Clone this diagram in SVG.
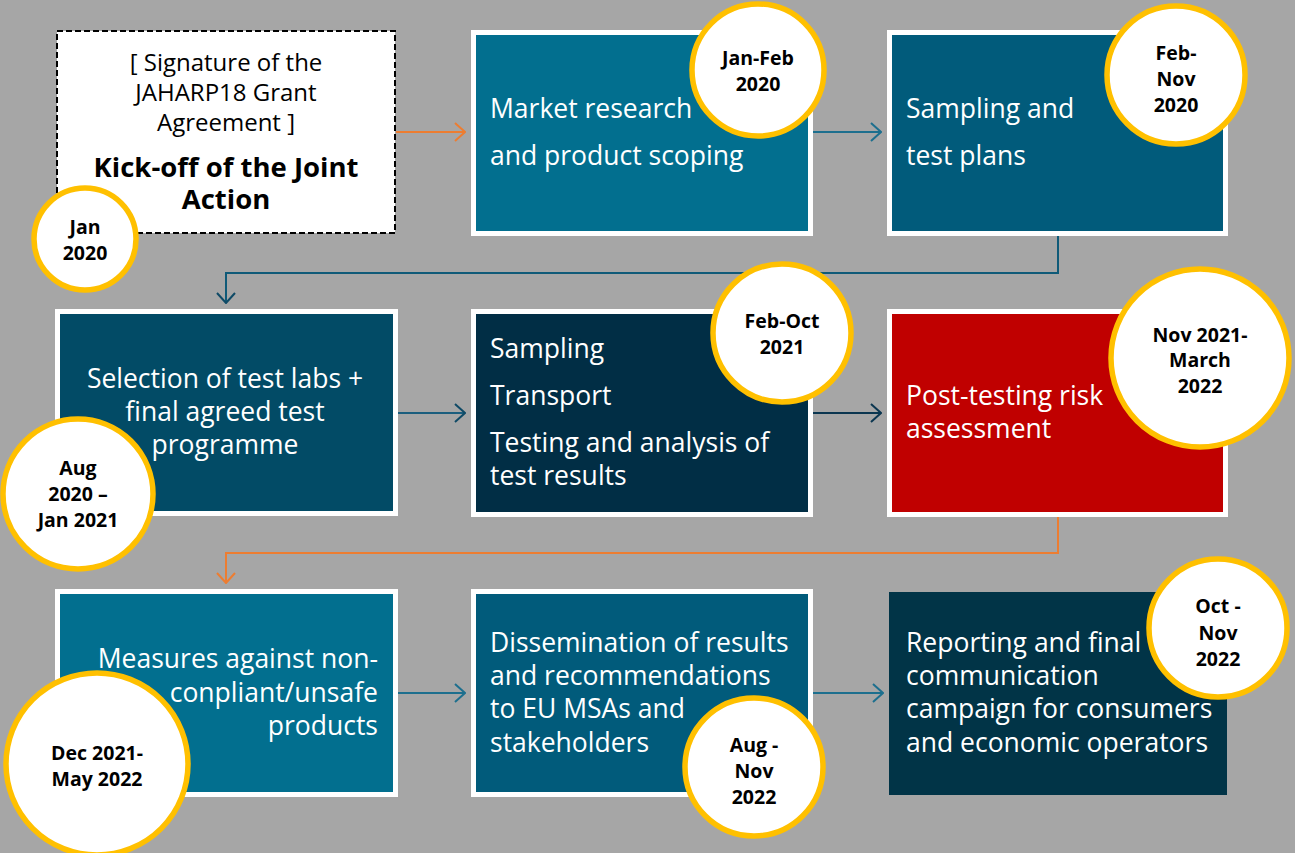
<svg xmlns="http://www.w3.org/2000/svg" width="1295" height="853" viewBox="0 0 1295 853">
  <defs>
    <marker id="chev-orange" viewBox="0 0 12 20" refX="11" refY="10" markerWidth="12" markerHeight="20" markerUnits="userSpaceOnUse" orient="auto">
      <path d="M1,1 L11,10 L1,19" fill="none" stroke="#ED7D31" stroke-width="2"/>
    </marker>
    <marker id="chev-teal" viewBox="0 0 12 20" refX="11" refY="10" markerWidth="12" markerHeight="20" markerUnits="userSpaceOnUse" orient="auto">
      <path d="M1,1 L11,10 L1,19" fill="none" stroke="#1D6F8E" stroke-width="2"/>
    </marker>
    <marker id="chev-navy" viewBox="0 0 12 20" refX="11" refY="10" markerWidth="12" markerHeight="20" markerUnits="userSpaceOnUse" orient="auto">
      <path d="M1,1 L11,10 L1,19" fill="none" stroke="#0F4A66" stroke-width="2"/>
    </marker>
    <marker id="chev-dark" viewBox="0 0 12 20" refX="11" refY="10" markerWidth="12" markerHeight="20" markerUnits="userSpaceOnUse" orient="auto">
      <path d="M1,1 L11,10 L1,19" fill="none" stroke="#0B3650" stroke-width="2"/>
    </marker>
  </defs>
  <style>
    .card { stroke: #ffffff; stroke-width: 5; }
    .c-teal { fill: #026F8F; }
    .c-blue { fill: #015B7B; }
    .c-navy { fill: #024B66; }
    .c-dark { fill: #012E45; }
    .c-deep { fill: #013447; }
    .c-red { fill: #C00000; }
    .body { font-family: "Open Sans", "Noto Sans", sans-serif; font-size: 26.5px; fill: #ffffff; }
    .intro { font-family: "Open Sans", "Noto Sans", sans-serif; font-size: 24px; fill: #000000; text-anchor: middle; }
    .intro-b { font-family: "Open Sans", "Noto Sans", sans-serif; font-size: 27.5px; font-weight: bold; fill: #000000; text-anchor: middle; }
    .badge { fill: #ffffff; stroke: #FFC000; stroke-width: 5.5; }
    .date { font-family: "Open Sans", "Noto Sans", sans-serif; font-size: 19.5px; font-weight: bold; fill: #000000; text-anchor: middle; }
    .link { fill: none; stroke-width: 2; }
  </style>

  <rect x="0" y="0" width="1295" height="853" fill="#A6A6A6"/>

  <g id="connectors">
    <line class="link" x1="396" y1="132" x2="465" y2="132" stroke="#ED7D31" marker-end="url(#chev-orange)"/>
    <line class="link" x1="813" y1="132" x2="881" y2="132" stroke="#1D6F8E" marker-end="url(#chev-teal)"/>
    <polyline class="link" points="1058,236 1058,273 226,273 226,303" stroke="#0F5A78" marker-end="url(#chev-navy)"/>
    <line class="link" x1="398" y1="413" x2="465" y2="413" stroke="#1B5E7E" marker-end="url(#chev-navy)"/>
    <line class="link" x1="813" y1="413" x2="881" y2="413" stroke="#0B3650" marker-end="url(#chev-dark)"/>
    <polyline class="link" points="1058,517 1058,553 226,553 226,583" stroke="#ED7D31" marker-end="url(#chev-orange)"/>
    <line class="link" x1="398" y1="693" x2="465" y2="693" stroke="#1D6F8E" marker-end="url(#chev-teal)"/>
    <line class="link" x1="813" y1="693" x2="883" y2="693" stroke="#1D6F8E" marker-end="url(#chev-teal)"/>
  </g>

  <g id="kickoff">
    <rect x="57" y="31" width="338" height="202" fill="#ffffff" stroke="#000000" stroke-width="2" stroke-dasharray="6 3"/>
    <text class="intro" x="226" y="71">[ Signature of the</text>
    <text class="intro" x="226" y="101">JAHARP18 Grant</text>
    <text class="intro" x="226" y="131">Agreement ]</text>
    <text class="intro-b" x="226" y="177">Kick-off of the Joint</text>
    <text class="intro-b" x="226" y="209">Action</text>
    <circle class="badge" cx="85" cy="239" r="51"/>
    <text class="date" x="85" y="234">Jan</text>
    <text class="date" x="85" y="260">2020</text>
  </g>

  <g id="market-research">
    <rect class="card c-teal" x="473.5" y="32.5" width="337" height="201"/>
    <text class="body" x="490" y="118">Market research</text>
    <text class="body" x="490" y="165">and product scoping</text>
    <circle class="badge" cx="758" cy="70" r="66"/>
    <text class="date" x="758" y="65">Jan-Feb</text>
    <text class="date" x="758" y="91">2020</text>
  </g>

  <g id="sampling-plans">
    <rect class="card c-blue" x="889.5" y="32.5" width="336" height="201"/>
    <text class="body" x="906" y="118">Sampling and</text>
    <text class="body" x="906" y="165">test plans</text>
    <circle class="badge" cx="1176" cy="75" r="69"/>
    <text class="date" x="1176" y="60">Feb-</text>
    <text class="date" x="1176" y="86">Nov</text>
    <text class="date" x="1176" y="112">2020</text>
  </g>

  <g id="lab-selection">
    <rect class="card c-navy" x="57.5" y="311.5" width="338" height="202"/>
    <text class="body" x="225" y="388" text-anchor="middle">Selection of test labs +</text>
    <text class="body" x="225" y="421" text-anchor="middle">final agreed test</text>
    <text class="body" x="225" y="454" text-anchor="middle">programme</text>
    <circle class="badge" cx="78" cy="494" r="75"/>
    <text class="date" x="78" y="475">Aug</text>
    <text class="date" x="78" y="501">2020 –</text>
    <text class="date" x="78" y="527">Jan 2021</text>
  </g>

  <g id="sampling-testing">
    <rect class="card c-dark" x="473.5" y="311.5" width="337" height="203"/>
    <text class="body" x="490" y="358">Sampling</text>
    <text class="body" x="490" y="405">Transport</text>
    <text class="body" x="490" y="452">Testing and analysis of</text>
    <text class="body" x="490" y="485">test results</text>
    <circle class="badge" cx="782" cy="333" r="69"/>
    <text class="date" x="782" y="328">Feb-Oct</text>
    <text class="date" x="782" y="354">2021</text>
  </g>

  <g id="risk-assessment">
    <rect class="card c-red" x="889.5" y="311.5" width="336" height="203"/>
    <text class="body" x="906" y="405">Post-testing risk</text>
    <text class="body" x="906" y="438">assessment</text>
    <circle class="badge" cx="1200" cy="358" r="89"/>
    <text class="date" x="1200" y="342">Nov 2021-</text>
    <text class="date" x="1200" y="367">March</text>
    <text class="date" x="1200" y="393">2022</text>
  </g>

  <g id="measures">
    <rect class="card c-teal" x="57.5" y="591.5" width="338" height="203"/>
    <text class="body" x="378" y="668" text-anchor="end">Measures against non-</text>
    <text class="body" x="378" y="702" text-anchor="end">conpliant/unsafe</text>
    <text class="body" x="378" y="735" text-anchor="end">products</text>
    <circle class="badge" cx="97" cy="764" r="91"/>
    <text class="date" x="97" y="760">Dec 2021-</text>
    <text class="date" x="97" y="786">May 2022</text>
  </g>

  <g id="dissemination">
    <rect class="card c-blue" x="473.5" y="591.5" width="337" height="203"/>
    <text class="body" x="490" y="652">Dissemination of results</text>
    <text class="body" x="490" y="685">and recommendations</text>
    <text class="body" x="490" y="718">to EU MSAs and</text>
    <text class="body" x="490" y="752">stakeholders</text>
    <circle class="badge" cx="754" cy="767" r="69"/>
    <text class="date" x="754" y="752">Aug -</text>
    <text class="date" x="754" y="778">Nov</text>
    <text class="date" x="754" y="804">2022</text>
  </g>

  <g id="reporting">
    <rect class="c-deep" x="889" y="592" width="338" height="203"/>
    <text class="body" x="906" y="652">Reporting and final</text>
    <text class="body" x="906" y="685">communication</text>
    <text class="body" x="906" y="718">campaign for consumers</text>
    <text class="body" x="906" y="752">and economic operators</text>
    <circle class="badge" cx="1218" cy="628" r="69"/>
    <text class="date" x="1218" y="613">Oct -</text>
    <text class="date" x="1218" y="640">Nov</text>
    <text class="date" x="1218" y="666">2022</text>
  </g>
</svg>
